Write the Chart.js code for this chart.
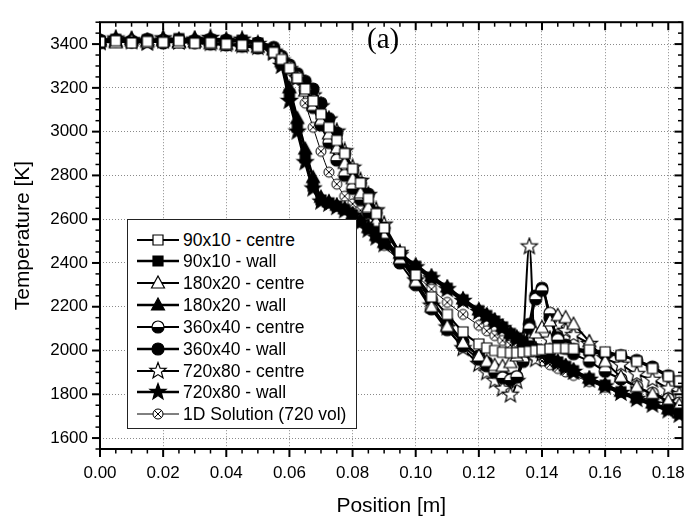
<!DOCTYPE html>
<html>
<head>
<meta charset="utf-8">
<script src="https://cdn.jsdelivr.net/npm/chart.js@4.4.1/dist/chart.umd.min.js"></script>
<style>
  html,body{margin:0;padding:0;background:#fff;}
  #wrap{position:relative;width:699px;height:521px;}
  #c{position:absolute;left:0;top:0;}
  #lbl{position:absolute;left:367px;top:22px;font-family:"Liberation Serif","Times New Roman",serif;font-size:29px;color:#000;}
  #legend{position:absolute;left:127px;top:219px;width:228px;height:208px;border:1.6px solid #222;background:#fff;}
  .row{position:absolute;left:0;height:22px;display:flex;align-items:center;}
  .row canvas{position:absolute;left:8px;top:0;}
  .row span{position:absolute;left:55px;top:1px;font-family:"Liberation Sans",Arial,sans-serif;font-size:17.5px;color:#000;white-space:nowrap;line-height:20px;}
</style>
</head>
<body>
<div id="wrap">
  <canvas id="c" width="699" height="521"></canvas>
  <div id="lbl">(a)</div>
  <div id="legend"></div>
</div>
<script>
// ---------------- DATA ----------------
const positions = [0,0.005,0.01,0.015,0.02,0.025,0.03,0.035,0.04,0.045,0.05,0.055,
  0.0575,0.06,0.0625,0.065,0.0675,0.07,0.0725,0.075,0.0775,0.08,0.0825,0.085,0.0875,0.09,
  0.095,0.1,0.105,0.11,0.115,0.12,
  0.1225,0.125,0.1275,0.13,0.132,0.134,0.136,0.138,0.14,0.1425,0.145,0.1475,0.15,
  0.155,0.16,0.165,0.17,0.175,0.18,0.1835];

const seriesNames = ["90x10 - centre","90x10 - wall","180x20 - centre","180x20 - wall",
  "360x40 - centre","360x40 - wall","720x80 - centre","720x80 - wall","1D Solution (720 vol)"];

const centre90 = [3410,3415,3405,3412,3408,3415,3404,3406,3400,3395,3388,3362,
  3330,3290,3245,3195,3140,3080,3020,2960,2900,2830,2765,2695,2625,2560,
  2450,2345,2245,2165,2085,2030,
  2012,2000,1992,1990,1990,1993,1996,2000,2004,2008,2010,2010,2008,
  2003,1994,1978,1950,1918,1882,1860];

const wall90 = [3415,3422,3410,3420,3412,3425,3414,3420,3416,3418,3405,3370,
  3310,3170,3020,2880,2750,2688,2675,2660,2645,2620,2590,2558,2522,2490,
  2440,2385,2335,2285,2232,2182,
  2160,2135,2108,2078,2058,2040,2022,2006,1990,1968,1948,1928,1908,
  1872,1842,1812,1784,1758,1732,1714];

const centre180 = [3412,3406,3415,3408,3414,3405,3410,3402,3398,3392,3385,3375,
  3340,3295,3245,3185,3120,3055,2990,2925,2855,2785,2720,2655,2590,2525,
  2420,2315,2200,2110,2035,1975,
  1950,1932,1928,1945,1975,2015,2050,2080,2105,2135,2160,2150,2120,
  2040,1950,1880,1835,1800,1770,1752];

const wall180 = [3420,3412,3424,3415,3420,3410,3425,3416,3420,3412,3402,3375,
  3320,3200,3060,2920,2790,2700,2680,2664,2648,2624,2594,2562,2526,2494,
  2444,2390,2340,2290,2236,2186,
  2163,2138,2110,2080,2060,2042,2024,2008,1992,1970,1950,1930,1910,
  1874,1844,1814,1786,1760,1734,1716];

const centre360 = [3406,3414,3410,3416,3405,3412,3408,3400,3396,3390,3382,3370,
  3335,3295,3250,3190,3110,3030,2950,2870,2800,2740,2690,2630,2570,2510,
  2400,2300,2190,2095,2020,1960,
  1930,1900,1875,1865,1880,1950,2100,2235,2275,2170,2050,2010,1985,
  1950,1905,1870,1835,1805,1778,1760];

const wall360 = [3418,3420,3415,3422,3418,3420,3416,3422,3418,3414,3405,3385,
  3345,3305,3265,3230,3195,3130,3060,2995,2900,2825,2765,2715,2630,2560,
  2440,2330,2230,2130,2040,1975,
  1945,1915,1885,1870,1880,1960,2120,2250,2285,2150,2060,2025,2005,
  1992,1985,1977,1955,1925,1885,1858];

const centre720 = [3408,3418,3412,3405,3416,3410,3414,3404,3400,3394,3386,3365,
  3325,3285,3245,3205,3165,3115,3055,3000,2910,2835,2775,2710,2640,2575,
  2445,2320,2205,2105,2010,1938,
  1900,1862,1825,1798,1860,2050,2475,1960,1985,2050,2115,2090,2070,
  2030,1965,1935,1892,1866,1826,1800];

const wall720 = [3412,3425,3418,3410,3426,3415,3420,3428,3414,3420,3400,3360,
  3300,3140,3000,2860,2740,2680,2670,2655,2640,2615,2585,2552,2516,2485,
  2435,2380,2330,2280,2226,2176,
  2154,2130,2102,2072,2052,2034,2016,2000,1984,1962,1942,1922,1902,
  1866,1836,1806,1778,1752,1726,1706];

const solution1D = [3405,3410,3404,3412,3406,3410,3402,3400,3398,3393,3385,3365,
  3340,3300,3250,3130,3020,2910,2815,2760,2705,2670,2640,2595,2535,2480,
  2410,2345,2280,2220,2165,2115,
  2090,2068,2046,2025,2010,1995,1980,1966,1952,1935,1918,1902,1886,
  1858,1832,1810,1790,1772,1756,1745];

const xTicks = [0,0.02,0.04,0.06,0.08,0.10,0.12,0.14,0.16,0.18];
const yTicks = [1600,1800,2000,2200,2400,2600,2800,3000,3200,3400];

// ---------------- MARKERS ----------------
function makeMarker(kind){
  const s = 20, m = s/2;
  const c = document.createElement('canvas'); c.width = s; c.height = s;
  const g = c.getContext('2d');
  g.strokeStyle = '#000'; g.lineWidth = 1.2; g.lineJoin='miter';
  const filled = kind.endsWith('F');
  g.fillStyle = filled ? '#000' : '#fff';
  g.beginPath();
  if (kind.startsWith('sq')) {
    g.rect(m-5, m-5, 10, 10);
    g.fill(); g.stroke();
  } else if (kind.startsWith('tri')) {
    g.moveTo(m, m-7); g.lineTo(m+6.5, m+5); g.lineTo(m-6.5, m+5); g.closePath();
    g.fill(); g.stroke();
  } else if (kind.startsWith('star')) {
    for (let i=0;i<10;i++){
      const r = i%2===0 ? 8.5 : 3.6;
      const a = -Math.PI/2 + i*Math.PI/5;
      const px = m + r*Math.cos(a), py = m + r*Math.sin(a);
      if (i===0) g.moveTo(px,py); else g.lineTo(px,py);
    }
    g.closePath(); g.fill(); g.stroke();
  } else if (kind === 'cirF') {
    g.arc(m, m, 6, 0, Math.PI*2); g.fill(); g.stroke();
  } else if (kind === 'cirH') {
    g.arc(m, m, 6, 0, Math.PI*2); g.fillStyle='#fff'; g.fill();
    g.beginPath(); g.arc(m, m, 6, 0, Math.PI); g.closePath(); g.fillStyle='#000'; g.fill();
    g.beginPath(); g.arc(m, m, 6, 0, Math.PI*2); g.stroke();
  } else if (kind === 'cirX') {
    g.lineWidth = 1;
    g.arc(m, m, 5, 0, Math.PI*2); g.fill(); g.stroke();
    g.beginPath(); const d = 3.6;
    g.moveTo(m-d, m-d); g.lineTo(m+d, m+d); g.moveTo(m+d, m-d); g.lineTo(m-d, m+d); g.stroke();
  }
  return c;
}

const seriesValues = [centre90, wall90, centre180, wall180, centre360, wall360, centre720, wall720, solution1D];
const markerKinds = ['sqO','sqF','triO','triF','cirH','cirF','starO','starF','cirX'];
const lineWidths = [2, 2.6, 2, 2.6, 2, 2.6, 2, 2.6, 1];
const markers = markerKinds.map(makeMarker);

const datasets = seriesNames.map((name, k) => ({
  label: name,
  data: positions.map((p, i) => ({x: p, y: seriesValues[k][i]})),
  borderColor: '#000',
  backgroundColor: '#000',
  borderWidth: lineWidths[k],
  pointStyle: markers[k],
  pointRadius: 5,
  cubicInterpolationMode: 'monotone',
  fill: false
}));

// ---------------- PLUGIN: frame & ticks ----------------
const frameTicks = {
  id: 'frameTicks',
  afterDatasetsDraw(chart) {
    const {ctx, chartArea: {left, right, top, bottom}, scales: {x, y}} = chart;
    ctx.save();
    ctx.strokeStyle = '#000';
    const seg = (x1,y1,x2,y2,w) => { ctx.lineWidth = w; ctx.beginPath(); ctx.moveTo(x1,y1); ctx.lineTo(x2,y2); ctx.stroke(); };
    for (let i = 0; i <= 36; i++) {
      const v = i*0.005;
      const px = x.getPixelForValue(v);
      const major = i % 4 === 0;
      const L = major ? 8 : 4.5, w = major ? 2 : 1.5;
      seg(px, bottom, px, bottom + L, w);
      seg(px, top, px, top + L, w);
    }
    for (let i = 0; i <= 39; i++) {
      const v = 1550 + 50*i;
      const py = y.getPixelForValue(v);
      if (py < top - 0.5 || py > bottom + 0.5) continue;
      const major = (v - 1600) % 200 === 0;
      const L = major ? 8 : 4.5, w = major ? 2 : 1.5;
      seg(left - L, py, left, py, w);
      seg(right - L, py, right, py, w);
    }
    ctx.lineWidth = 2;
    ctx.strokeRect(left, top, right - left, bottom - top);
    ctx.restore();
  }
};

const tickFont = {family: '"Liberation Sans", Arial, sans-serif', size: 17};
const titleFont = {family: '"Liberation Sans", Arial, sans-serif', size: 21};

new Chart(document.getElementById('c'), {
  type: 'line',
  data: {datasets},
  options: {
    responsive: false,
    animation: false,
    devicePixelRatio: 1,
    layout: {padding: {top: 7, right: 2, left: 0, bottom: 0}},
    plugins: {legend: {display: false}, tooltip: {enabled: false}},
    scales: {
      x: {
        type: 'linear', min: 0, max: 0.1845,
        afterBuildTicks: s => { s.ticks = xTicks.map(v => ({value: v})); },
        afterFit: s => { s.height = 72; },
        grid: {color: '#8a8a8a', lineWidth: 1, drawTicks: false},
        border: {display: false, dash: [1, 2]},
        ticks: {font: tickFont, color: '#000', padding: 14, maxRotation: 0, autoSkip: false,
                callback: v => Number(v).toFixed(2)},
        title: {display: true, text: 'Position [m]', font: titleFont, color: '#000', padding: {top: 0, bottom: 2}}
      },
      y: {
        type: 'linear', min: 1550, max: 3500,
        afterBuildTicks: s => { s.ticks = yTicks.map(v => ({value: v})); },
        afterFit: s => { s.width = 100; },
        grid: {color: '#8a8a8a', lineWidth: 1, drawTicks: false},
        border: {display: false, dash: [1, 2]},
        ticks: {font: tickFont, color: '#000', padding: 12, autoSkip: false,
                callback: v => String(v)},
        title: {display: true, text: 'Temperature [K]', font: titleFont, color: '#000', padding: {top: 11, bottom: 0}}
      }
    }
  },
  plugins: [frameTicks]
});

// ---------------- HTML LEGEND ----------------
const legend = document.getElementById('legend');
seriesNames.forEach((name, k) => {
  const row = document.createElement('div');
  row.className = 'row';
  row.style.top = (8.5 + 21.85*k) + 'px';
  const cv = document.createElement('canvas');
  cv.width = 46; cv.height = 22;
  const g = cv.getContext('2d');
  g.strokeStyle = '#000'; g.lineWidth = lineWidths[k];
  g.beginPath(); g.moveTo(1, 11); g.lineTo(43, 11); g.stroke();
  g.drawImage(markers[k], 22 - markers[k].width/2, 11 - markers[k].height/2);
  row.appendChild(cv);
  const sp = document.createElement('span');
  sp.textContent = name;
  row.appendChild(sp);
  legend.appendChild(row);
});
</script>
</body>
</html>
